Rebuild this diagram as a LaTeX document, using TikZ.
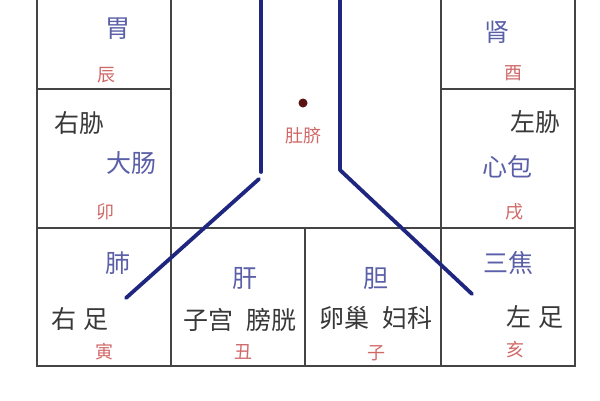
\documentclass[tikz,border=0pt]{standalone}
\usepackage{fontspec}
\newfontfamily\cjk{Noto Sans CJK SC}
\definecolor{organc}{HTML}{5A5FA8}
\definecolor{bodyc}{HTML}{383838}
\definecolor{branchc}{HTML}{D06868}
\definecolor{linec}{HTML}{1F2680}
\definecolor{gridc}{HTML}{444444}
\definecolor{dotc}{HTML}{5A1414}
\begin{document}
\begin{tikzpicture}[x=1pt,y=-1pt,
  organ/.style={text=organc,font=\cjk\fontsize{25}{28}\selectfont,inner sep=0pt},
  bodytxt/.style={text=bodyc,font=\cjk\fontsize{25}{28}\selectfont,inner sep=0pt},
  branch/.style={text=branchc,font=\cjk\fontsize{18}{21}\selectfont,inner sep=0pt},
  gridline/.style={draw=gridc,line width=1.5pt},
  meridian/.style={draw=linec,line width=3.8pt,line cap=round,line join=round}]
\useasboundingbox (0,0) rectangle (600,400);
\fill[white] (0,0) rectangle (600,400);
% grid
\draw[gridline] (37,0) -- (37,366) -- (575,366) -- (575,0);
\draw[gridline] (171,0) -- (171,366);
\draw[gridline] (441,0) -- (441,366);
\draw[gridline] (305,228) -- (305,366);
\draw[gridline] (37,89) -- (171,89);
\draw[gridline] (441,89) -- (575,89);
\draw[gridline] (37,228) -- (575,228);
% meridian lines
\coordinate (lt) at (261,-5);
\coordinate (lb) at (261,172);
\coordinate (ld) at (259,179);
\coordinate (lf) at (126,298);
\coordinate (rt) at (340,-5);
\coordinate (rb) at (340,170);
\coordinate (rf) at (472,294);
\draw[meridian] (lt) -- (lb);
\draw[meridian] (ld) -- (lf);
\draw[meridian] (rt) -- (rb) -- (rf);
% navel
\fill[dotc] (303,103) circle (4.5);
\node[branch] (navel) at (303,136) {肚脐};
% top-left
\node[organ] (wei) at (118,29) {胃};
\node[branch] (chen) at (106,75) {辰};
\node[bodytxt] (youxie) at (79,123) {右胁};
\node[organ] (dachang) at (131,163) {大肠};
\node[branch] (mao) at (105,212) {卯};
% top-right
\node[organ] (shen) at (497,32) {肾};
\node[branch] (you) at (513,73) {酉};
\node[bodytxt] (zuoxie) at (535,122) {左胁};
\node[organ] (xinbao) at (507,167) {心包};
\node[branch] (xu) at (514,212) {戌};
% bottom row
\node[organ] (fei) at (118,263) {肺};
\node[bodytxt] (youzu) at (80,319) {右\hspace{0.3em}足};
\node[branch] (yin) at (104,352) {寅};
\node[organ] (gan) at (245,278) {肝};
\node[bodytxt] (zigong) at (240,320) {子宫\hspace{0.5em}膀胱};
\node[branch] (chou) at (243,352) {丑};
\node[organ] (dan) at (376,278) {胆};
\node[bodytxt] (luanchao) at (376,318) {卵巢\hspace{0.5em}妇科};
\node[branch] (zi) at (376,353) {子};
\node[organ] (sanjiao) at (508,263) {三焦};
\node[bodytxt] (zuozu) at (535,317) {左\hspace{0.3em}足};
\node[branch] (hai) at (515,350) {亥};
\end{tikzpicture}
\end{document}
